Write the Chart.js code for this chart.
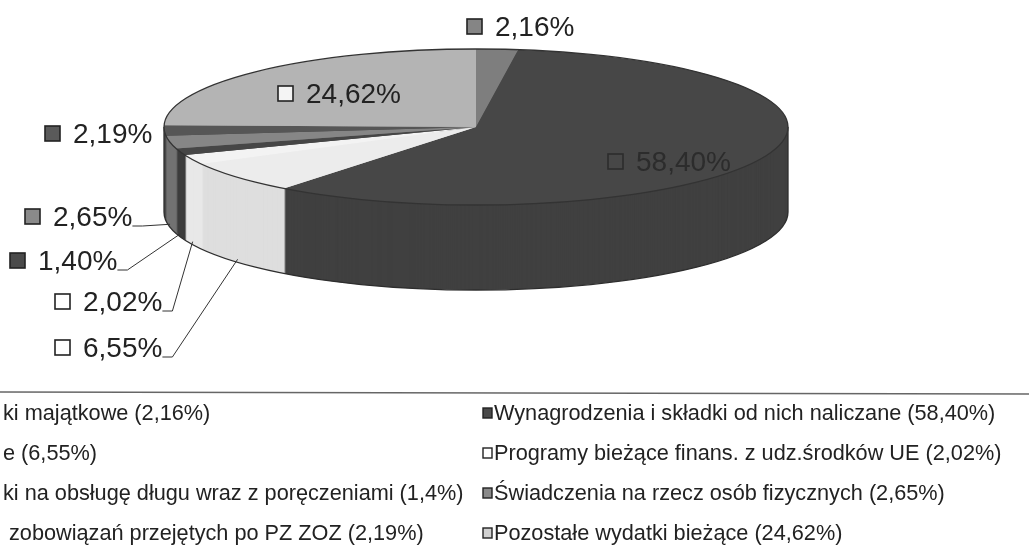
<!DOCTYPE html>
<html>
<head>
<meta charset="utf-8">
<script src="https://cdn.jsdelivr.net/npm/chart.js@4.4.1/dist/chart.umd.min.js"></script>
<style>
  html, body { margin: 0; padding: 0; background: #ffffff; overflow: hidden; }
  #wrap { position: relative; width: 1029px; height: 550px; }
</style>
</head>
<body>
<div id="wrap"><canvas id="c" width="1029" height="550"></canvas></div>
<script>
// ---- data (slice order = clockwise from 12 o'clock, legend is row-major) ----
const categories = [
  'ki majątkowe (2,16%)',
  'Wynagrodzenia i składki od nich naliczane (58,40%)',
  'e (6,55%)',
  'Programy bieżące finans. z udz.środków UE (2,02%)',
  'ki na obsługę długu wraz z poręczeniami (1,4%)',
  'Świadczenia na rzecz osób fizycznych (2,65%)',
  ' zobowiązań przejętych po PZ ZOZ (2,19%)',
  'Pozostałe wydatki bieżące (24,62%)'
];
const values = [2.16, 58.40, 6.55, 2.02, 1.40, 2.65, 2.19, 24.62];
const valueLabels = ['2,16%', '58,40%', '6,55%', '2,02%', '1,40%', '2,65%', '2,19%', '24,62%'];

// ---- styles ----
const topColors    = ['#7e7e7e', '#474747', '#ececec', '#f3f3f3', '#464646', '#868686', '#565656', '#b4b4b4'];
const sideColors   = ['#6c6c6c', '#404040', '#dedede', '#e8e8e8', '#3c3c3c', '#727272', '#4a4a4a', '#9c9c9c'];
const markerColors = ['#858585', '#4a4a4a', '#ffffff', '#ffffff', '#4a4a4a', '#8a8a8a', '#5a5a5a', '#d0d0d0'];
const labelMarkerColors = ['#858585', '#474747', '#ffffff', '#ffffff', '#4a4a4a', '#8a8a8a', '#5a5a5a', '#f4f4f4'];
const G = { cx: 476, cy: 127, rx: 312, ry: 78, depth: 85 };
// label anchor (marker left, text middle) + whether a leader line is drawn
const labelLayout = [
  { x: 467, y: 27,  leader: false, color: '#222', border: '#222' },
  { x: 608, y: 162, leader: false, color: '#2c2c2c', border: '#2c2c2c' },
  { x: 55,  y: 348, leader: true,  color: '#222', border: '#222' },
  { x: 55,  y: 302, leader: true,  color: '#222', border: '#222' },
  { x: 10,  y: 261, leader: true,  color: '#222', border: '#222' },
  { x: 25,  y: 217, leader: true,  color: '#222', border: '#222' },
  { x: 45,  y: 134, leader: false, color: '#222', border: '#222' },
  { x: 278, y: 94,  leader: false, color: '#222', border: '#222' }
];
const legendLayout = { top: 413, rowGap: 40, colX: [3, 494], markerX: [-14, 483], lineY: 392 };
const FONT = '"Liberation Sans", Arial, sans-serif';

const pie3d = {
  id: 'pie3d',
  beforeDatasetsDraw(chart) {
    const ctx = chart.ctx;
    const arcs = chart.getDatasetMeta(0).data;
    const a0 = arcs[0];
    const R = a0.outerRadius;
    // extruded side
    for (let d = G.depth; d >= 1; d--) {
      arcs.forEach((arc, i) => {
        ctx.save();
        ctx.translate(G.cx, G.cy + d);
        ctx.scale(G.rx / R, G.ry / R);
        ctx.beginPath();
        ctx.moveTo(0, 0);
        ctx.arc(0, 0, R, arc.startAngle, arc.endAngle);
        ctx.closePath();
        ctx.fillStyle = sideColors[i];
        ctx.fill();
        ctx.restore();
      });
    }
    // side outline
    ctx.save();
    ctx.strokeStyle = '#2e2e2e';
    ctx.lineWidth = 1.3;
    ctx.beginPath();
    ctx.ellipse(G.cx, G.cy + G.depth, G.rx, G.ry, 0, 0, Math.PI);
    ctx.stroke();
    ctx.beginPath();
    ctx.moveTo(G.cx - G.rx, G.cy); ctx.lineTo(G.cx - G.rx, G.cy + G.depth);
    ctx.moveTo(G.cx + G.rx, G.cy); ctx.lineTo(G.cx + G.rx, G.cy + G.depth);
    ctx.stroke();
    ctx.restore();
    // top face transform for the library's own arcs
    ctx.save();
    ctx.translate(G.cx, G.cy);
    ctx.scale(G.rx / R, G.ry / R);
    ctx.translate(-a0.x, -a0.y);
  },
  afterDatasetsDraw(chart) {
    const ctx = chart.ctx;
    ctx.restore();
    ctx.save();
    ctx.strokeStyle = '#333';
    ctx.lineWidth = 1.3;
    ctx.beginPath();
    ctx.ellipse(G.cx, G.cy, G.rx, G.ry, 0, 0, Math.PI * 2);
    ctx.stroke();
    ctx.restore();
  },
  afterDraw(chart) {
    const ctx = chart.ctx;
    const arcs = chart.getDatasetMeta(0).data;
    ctx.save();
    // data labels
    ctx.font = '28px ' + FONT;
    ctx.textBaseline = 'middle';
    ctx.textAlign = 'left';
    arcs.forEach((arc, i) => {
      const L = labelLayout[i];
      ctx.fillStyle = labelMarkerColors[i];
      ctx.fillRect(L.x, L.y - 8, 15, 15);
      ctx.strokeStyle = L.border;
      ctx.lineWidth = 1.6;
      ctx.strokeRect(L.x, L.y - 8, 15, 15);
      const tx = L.x + 28;
      ctx.fillStyle = L.color;
      ctx.fillText(valueLabels[i], tx, L.y + 1);
      if (L.leader) {
        const w = ctx.measureText(valueLabels[i]).width;
        const mid = (arc.startAngle + arc.endAngle) / 2;
        const px = G.cx + G.rx * Math.cos(mid);
        const py = G.cy + G.ry * Math.sin(mid) + G.depth - 3;
        const ly = L.y + 9;
        ctx.strokeStyle = '#333';
        ctx.lineWidth = 1;
        ctx.beginPath();
        ctx.moveTo(tx + w, ly);
        ctx.lineTo(tx + w + 10, ly);
        ctx.lineTo(px, py);
        ctx.stroke();
      }
    });
    // legend
    ctx.strokeStyle = '#666';
    ctx.lineWidth = 1.5;
    ctx.beginPath();
    ctx.moveTo(0, legendLayout.lineY);
    ctx.lineTo(1029, legendLayout.lineY + 2);
    ctx.stroke();
    ctx.font = '21.7px ' + FONT;
    categories.forEach((t, i) => {
      const row = Math.floor(i / 2), col = i % 2;
      const y = legendLayout.top + row * legendLayout.rowGap;
      const mx = legendLayout.markerX[col];
      ctx.fillStyle = markerColors[i];
      ctx.fillRect(mx, y - 5, 9, 10);
      ctx.strokeStyle = '#222';
      ctx.lineWidth = 1.4;
      ctx.strokeRect(mx, y - 5, 9, 10);
      ctx.fillStyle = '#222';
      ctx.fillText(t, legendLayout.colX[col], y + 1);
    });
    ctx.restore();
  }
};

new Chart(document.getElementById('c'), {
  type: 'pie',
  data: {
    labels: categories,
    datasets: [{
      data: values,
      backgroundColor: topColors,
      borderWidth: 0,
      clip: false
    }]
  },
  options: {
    responsive: false,
    animation: false,
    events: [],
    rotation: 0,
    plugins: { legend: { display: false }, tooltip: { enabled: false } }
  },
  plugins: [pie3d]
});
</script>
</body>
</html>
